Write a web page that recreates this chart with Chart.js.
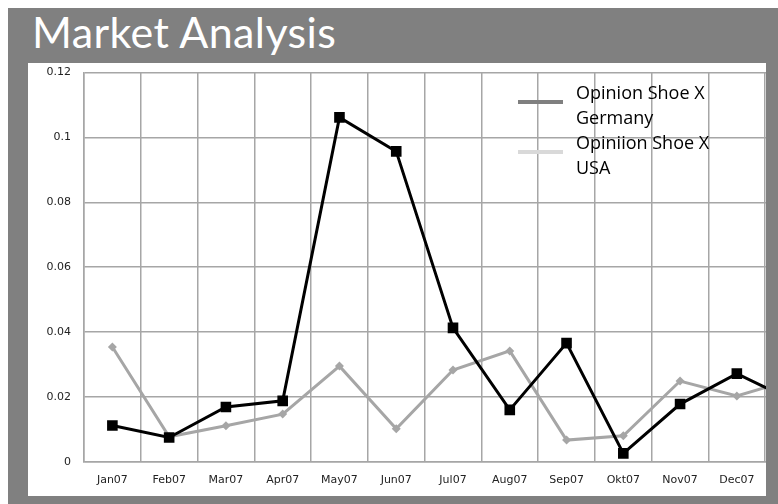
<!DOCTYPE html>
<html>
<head>
<meta charset="utf-8">
<title>Market Analysis</title>
<script src="https://cdn.jsdelivr.net/npm/chart.js@4.4.1/dist/chart.umd.min.js"></script>
<style>
  html, body { margin: 0; padding: 0; background: #fff; }
  #frame { position: absolute; left: 8px; top: 8px; width: 770px; height: 496px; background: #808080; }
  #title { position: absolute; left: 24px; top: -2px; font-family: Lato, sans-serif; font-size: 43px; letter-spacing: 0.4px; color: #fff; white-space: nowrap; }
  #panel { position: absolute; left: 20px; top: 55px; width: 738px; height: 433px; background: #fff; overflow: hidden; }
  #wrap { position: absolute; left: 0; top: -10px; width: 800px; height: 443px; }
  .leg { position: absolute; left: 490px; font-family: "Open Sans", sans-serif; font-size: 18px; line-height: 25px; color: #000; }
  .leg .bar { position: absolute; left: 0; width: 45px; height: 4px; }
  .leg .txt { position: absolute; left: 58px; width: 160px; }
</style>
</head>
<body>
<div id="frame">
  <div id="title">Market Analysis</div>
  <div id="panel">
    <div id="wrap"><canvas id="lineChart"></canvas></div>
    <div id="legend"></div>
  </div>
</div>
<script>
let months = ['Jan07', 'Feb07', 'Mar07', 'Apr07', 'May07', 'Jun07', 'Jul07', 'Aug07', 'Sep07', 'Okt07', 'Nov07', 'Dec07', 'Jan08'];
let germany = [0.0112, 0.0075, 0.0169, 0.0188, 0.1062, 0.0957, 0.0413, 0.0160, 0.0366, 0.0026, 0.0178, 0.0272, 0.0187];
let usa = [0.0354, 0.0077, 0.0111, 0.0147, 0.0295, 0.0102, 0.0283, 0.0342, 0.0067, 0.0080, 0.0249, 0.0203, 0.0255];
let seriesNames = ['Opinion Shoe X Germany', 'Opiniion Shoe X USA'];
let legendColors = ['#7f7f7f', '#d9d9d9'];

// legend sits inside the plot, top right
let legendBox = document.getElementById('legend');
seriesNames.forEach((name, i) => {
  let item = document.createElement('div');
  item.className = 'leg';
  item.style.top = (17 + i * 50) + 'px';
  item.innerHTML = '<div class="bar" style="top:20px;background:' + legendColors[i] + '"></div><div class="txt">' + name + '</div>';
  legendBox.appendChild(item);
});

var ctx = document.getElementById('lineChart').getContext('2d');
var lineChart = new Chart(ctx, {
  type: 'line',
  data: {
    labels: months,
    datasets: [
      {
        label: seriesNames[0],
        data: germany,
        borderColor: '#000',
        backgroundColor: '#000',
        borderWidth: 3,
        pointStyle: 'rect',
        pointRadius: 7.5,
        pointBorderWidth: 0,
        tension: 0
      },
      {
        label: seriesNames[1],
        data: usa,
        borderColor: '#a6a6a6',
        backgroundColor: '#a6a6a6',
        borderWidth: 3,
        pointStyle: 'rectRot',
        pointRadius: 4.5,
        pointBorderWidth: 0,
        tension: 0
      }
    ]
  },
  options: {
    responsive: true,
    maintainAspectRatio: false,
    animation: false,
    layout: { autoPadding: false, padding: { left: 0, right: 6, top: 0, bottom: -3 } },
    plugins: {
      legend: { display: false },
      tooltip: { enabled: false }
    },
    scales: {
      x: {
        offset: true,
        grid: { offset: true, color: '#a6a6a6', lineWidth: 1.5, drawTicks: false },
        border: { color: '#a6a6a6', width: 1.5 },
        ticks: { color: '#222', padding: 12, font: { family: 'DejaVu Sans', size: 11 }, maxRotation: 0, autoSkip: false }
      },
      y: {
        min: 0,
        max: 0.12,
        afterFit: function(scale) { scale.width = 56; },
        grid: { color: '#a6a6a6', lineWidth: 1.5, drawTicks: false },
        border: { color: '#a6a6a6', width: 1.5 },
        ticks: {
          stepSize: 0.02,
          color: '#222',
          padding: 13,
          font: { family: 'DejaVu Sans', size: 11 },
          callback: function(value) { return String(parseFloat(value.toFixed(2))); }
        }
      }
    }
  }
});
</script>
</body>
</html>
